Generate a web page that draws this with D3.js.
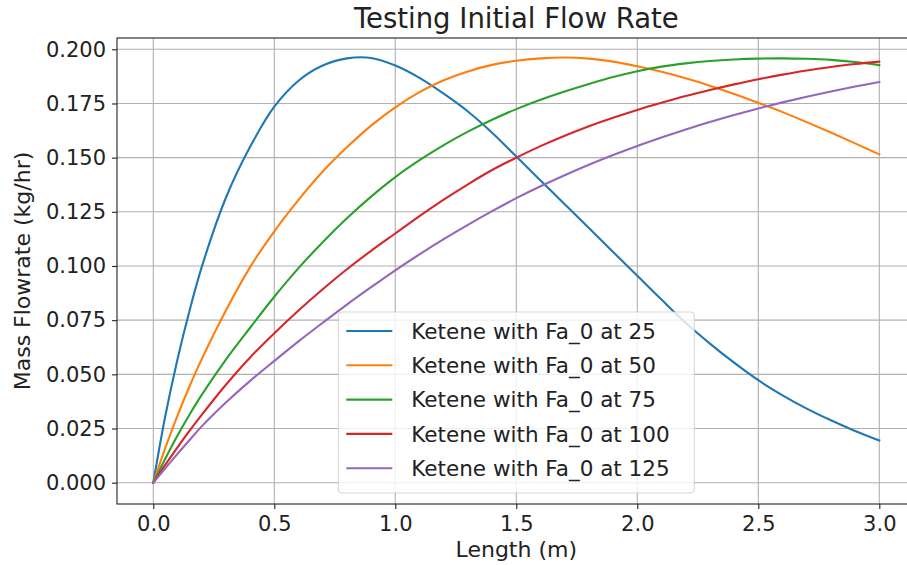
<!DOCTYPE html>
<html>
<head>
<meta charset="utf-8">
<script src="https://cdn.jsdelivr.net/npm/d3@7"></script>
<style>
	body { margin: 0; background: #fff; }
	svg { display: block; font-family: "DejaVu Sans", sans-serif; }
</style>
</head>
<body>
<svg id="chart" width="907" height="565"></svg>
<script>
/*=================================
	DATA
**===============================*/

var lengths = [0, 0.05, 0.1, 0.15, 0.2, 0.3, 0.4, 0.5, 0.6, 0.7, 0.8, 0.9, 1.0, 1.1, 1.2, 1.3, 1.4, 1.5, 1.6, 1.7, 1.8, 1.9, 2.0, 2.1, 2.2, 2.3, 2.4, 2.5, 2.6, 2.7, 2.8, 2.9, 3.0];

var ketene25 = [0, 0.031, 0.057, 0.0795, 0.0995, 0.1315, 0.155, 0.1735, 0.1855, 0.1925, 0.1958, 0.1960, 0.1925, 0.1868, 0.1795, 0.1713, 0.1615, 0.1505, 0.1395, 0.1285, 0.1175, 0.1065, 0.0955, 0.0845, 0.0738, 0.0642, 0.0554, 0.0473, 0.0403, 0.0342, 0.0288, 0.0239, 0.0195];
var ketene50 = [0, 0.0162, 0.031, 0.0445, 0.057, 0.0795, 0.0995, 0.1160, 0.1305, 0.1436, 0.1548, 0.1648, 0.1732, 0.1802, 0.1857, 0.1898, 0.1928, 0.1947, 0.1958, 0.1962, 0.1957, 0.1943, 0.1922, 0.1896, 0.1866, 0.1832, 0.1794, 0.1753, 0.1710, 0.1664, 0.1616, 0.1566, 0.1515];
var ketene75 = [0, 0.0112, 0.0218, 0.0315, 0.0405, 0.0568, 0.0715, 0.0858, 0.0990, 0.1110, 0.1220, 0.1320, 0.1410, 0.1488, 0.1558, 0.1620, 0.1675, 0.1724, 0.1767, 0.1805, 0.1840, 0.1872, 0.1899, 0.1920, 0.1935, 0.1946, 0.1953, 0.1957, 0.1958, 0.1956, 0.1951, 0.1941, 0.1927];
var ketene100 = [0, 0.0083, 0.0163, 0.024, 0.0313, 0.0452, 0.0578, 0.0690, 0.0795, 0.0893, 0.0985, 0.1070, 0.1150, 0.1230, 0.1306, 0.1377, 0.1443, 0.1500, 0.1553, 0.1601, 0.1645, 0.1684, 0.1720, 0.1753, 0.1784, 0.1812, 0.1838, 0.1862, 0.1883, 0.1902, 0.1918, 0.1932, 0.1943];
var ketene125 = [0, 0.0067, 0.0133, 0.0197, 0.026, 0.0370, 0.0470, 0.0562, 0.0652, 0.0738, 0.0822, 0.0902, 0.0980, 0.1054, 0.1124, 0.1190, 0.1253, 0.1313, 0.1368, 0.1419, 0.1467, 0.1512, 0.1554, 0.1593, 0.1630, 0.1665, 0.1697, 0.1727, 0.1755, 0.1781, 0.1805, 0.1828, 0.1849];

var seriesNames = ["Ketene with Fa_0 at 25", "Ketene with Fa_0 at 50", "Ketene with Fa_0 at 75", "Ketene with Fa_0 at 100", "Ketene with Fa_0 at 125"];
var seriesColors = ["#1f77b4", "#ff7f0e", "#2ca02c", "#d62728", "#9467bd"];

var xTicks = [0, 0.5, 1.0, 1.5, 2.0, 2.5, 3.0];
var yTicks = [0, 0.025, 0.05, 0.075, 0.1, 0.125, 0.15, 0.175, 0.2];

/*=================================
	SCALES
**===============================*/

var svg = d3.select("#chart");
var allSeries = [ketene25, ketene50, ketene75, ketene100, ketene125];

var xScale = d3.scaleLinear().domain([-0.15, 3.15]).range([117, 915.6]);
var yScale = d3.scaleLinear().domain([-0.00983, 0.20521]).range([504, 38]);

//NOTE: "top" is taken by window.top, so the plot edges get their own names
var plotLeft = xScale.range()[0],
	plotRight = xScale.range()[1],
	plotTop = yScale.range()[1],
	plotBottom = yScale.range()[0];

/*=================================
	GRID
**===============================*/

var grid = svg.append("g").attr("class", "grid");

grid.selectAll("line.gx").data(xTicks).enter().append("line")
	.attr("x1", function(d) { return xScale(d); })
	.attr("x2", function(d) { return xScale(d); })
	.attr("y1", plotTop).attr("y2", plotBottom)
	.attr("stroke", "#b0b0b0").attr("stroke-width", 1.1);

grid.selectAll("line.gy").data(yTicks).enter().append("line")
	.attr("x1", plotLeft).attr("x2", plotRight)
	.attr("y1", function(d) { return yScale(d); })
	.attr("y2", function(d) { return yScale(d); })
	.attr("stroke", "#b0b0b0").attr("stroke-width", 1.1);

/*=================================
	LINES
**===============================*/

var line = d3.line()
	.x(function(d, i) { return xScale(lengths[i]); })
	.y(function(d) { return yScale(d); })
	.curve(d3.curveCatmullRom.alpha(0.5));

svg.append("g").selectAll("path").data(allSeries).enter().append("path")
	.attr("d", line)
	.attr("fill", "none")
	.attr("stroke", function(d, i) { return seriesColors[i]; })
	.attr("stroke-width", 2.1)
	.attr("stroke-linejoin", "round")
	.attr("stroke-linecap", "square");

/*=================================
	AXES
**===============================*/

var xAxis = d3.axisBottom(xScale).tickValues(xTicks).tickSize(5).tickPadding(7).tickFormat(d3.format(".1f"));
var yAxis = d3.axisLeft(yScale).tickValues(yTicks).tickSize(5).tickPadding(6).tickFormat(d3.format(".3f"));

var gx = svg.append("g").attr("transform", "translate(0," + plotBottom + ")").call(xAxis);
var gy = svg.append("g").attr("transform", "translate(" + plotLeft + ",0)").call(yAxis);

[gx, gy].forEach(function(g) {
	g.select(".domain").remove();
	g.selectAll(".tick line").attr("stroke", "#222").attr("stroke-width", 1.1);
	g.selectAll(".tick text").attr("fill", "#222").style("font-size", "21px").style("font-family", "DejaVu Sans");
});

//Spines
svg.append("rect")
	.attr("x", plotLeft).attr("y", plotTop)
	.attr("width", plotRight - plotLeft).attr("height", plotBottom - plotTop)
	.attr("fill", "none").attr("stroke", "#222").attr("stroke-width", 1.1);

/*=================================
	LABELS
**===============================*/

svg.append("text")
	.attr("x", (plotLeft + plotRight) / 2).attr("y", 28)
	.attr("text-anchor", "middle")
	.style("font-size", "27.5px").attr("fill", "#222")
	.text("Testing Initial Flow Rate");

svg.append("text")
	.attr("x", (plotLeft + plotRight) / 2).attr("y", 557)
	.attr("text-anchor", "middle")
	.style("font-size", "22px").attr("fill", "#222")
	.text("Length (m)");

svg.append("text")
	.attr("transform", "translate(30," + ((plotTop + plotBottom) / 2) + ") rotate(-90)")
	.attr("text-anchor", "middle")
	.style("font-size", "22px").attr("fill", "#222")
	.text("Mass Flowrate (kg/hr)");

/*=================================
	LEGEND
**===============================*/

var legW = 356, legH = 181, rowH = 34.3;
var legX = (plotLeft + plotRight) / 2 - legW / 2,
	legY = plotBottom - 11 - legH;

var legend = svg.append("g").attr("transform", "translate(" + legX + "," + legY + ")");

legend.append("rect")
	.attr("width", legW).attr("height", legH)
	.attr("rx", 4).attr("ry", 4)
	.attr("fill", "#fff").attr("fill-opacity", 0.8)
	.attr("stroke", "#ccc").attr("stroke-opacity", 0.8).attr("stroke-width", 1.1);

var rows = legend.selectAll("g.row").data(seriesNames).enter().append("g")
	.attr("transform", function(d, i) { return "translate(0," + (19 + i * rowH) + ")"; });

rows.append("line")
	.attr("x1", 8).attr("x2", 54)
	.attr("stroke", function(d, i) { return seriesColors[i]; })
	.attr("stroke-width", 2.1);

rows.append("text")
	.attr("x", 73).attr("dy", "0.36em")
	.style("font-size", "21.5px").attr("fill", "#222")
	.text(function(d) { return d; });
</script>
</body>
</html>
